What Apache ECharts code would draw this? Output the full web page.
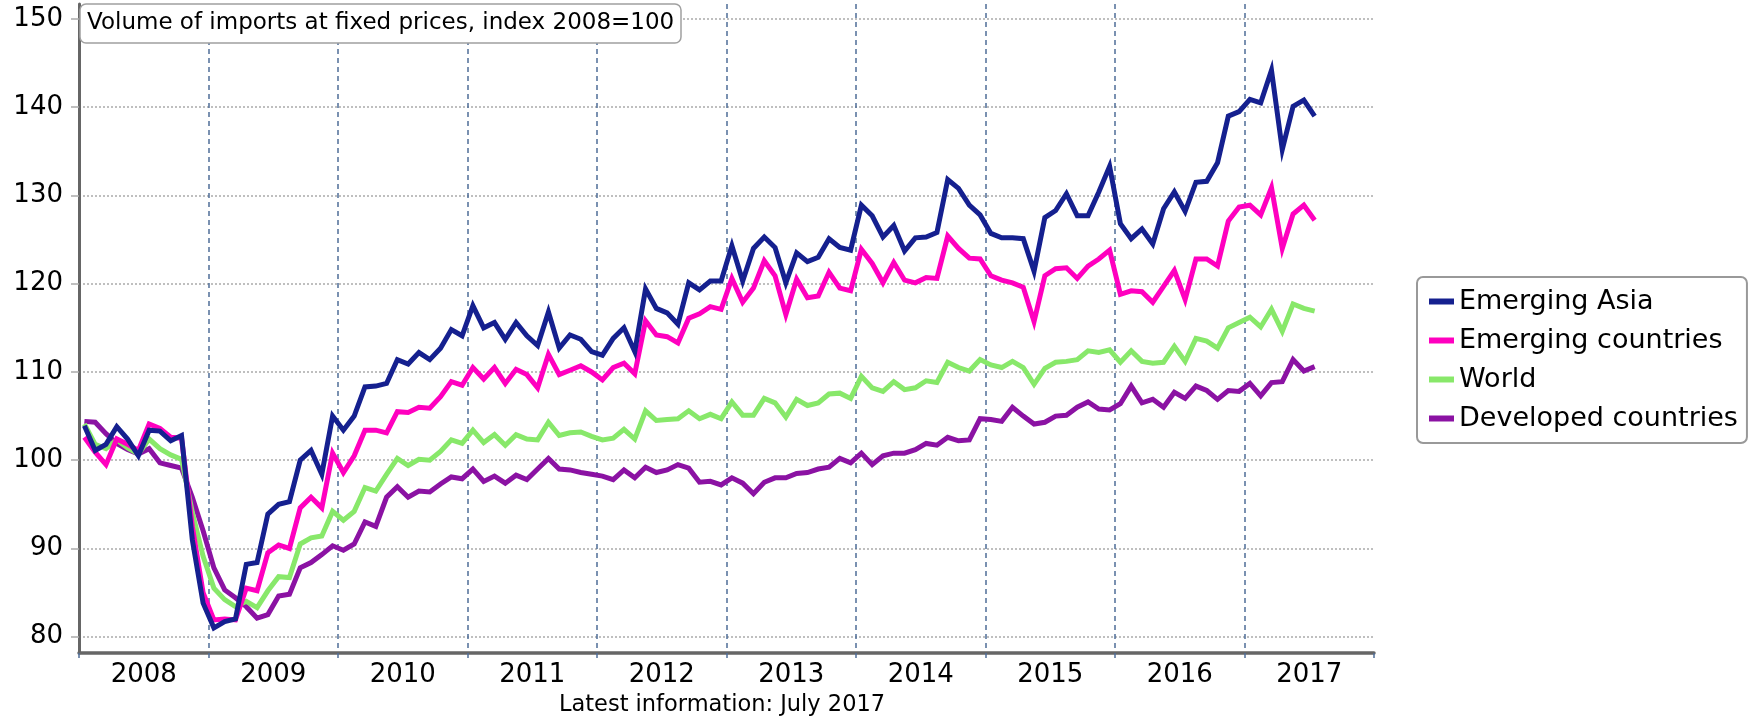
<!DOCTYPE html>
<html>
<head>
<meta charset="utf-8">
<script src="https://cdn.jsdelivr.net/npm/echarts@6/dist/echarts.min.js"></script>
<style>
html,body{margin:0;padding:0;background:#fff;}
#chart{width:1757px;height:719px;}
</style>
</head>
<body>
<div id="chart"></div>
<script>
// Monthly data, January 2008 .. July 2017
const years = ['2008','2009','2010','2011','2012','2013','2014','2015','2016','2017'];
const seriesNames = ['Emerging Asia','Emerging countries','World','Developed countries'];
const titleText = 'Volume of imports at fixed prices, index 2008=100';
const footText = 'Latest information: July 2017';
const yTicks = [80, 90, 100, 110, 120, 130, 140, 150];

const emergingAsia = [
103.9,101.1,101.8,103.8,102.4,100.5,103.4,103.3,102.2,102.8,91.0,83.8,
81.0,81.7,82.0,88.2,88.4,93.9,95.0,95.3,100.0,101.1,98.4,105.0,
103.4,105.0,108.3,108.4,108.7,111.4,110.9,112.2,111.4,112.7,114.8,114.1,
117.5,115.0,115.6,113.7,115.6,114.1,113.0,116.8,112.7,114.2,113.7,112.3,
111.9,113.8,115.0,112.3,119.4,117.2,116.7,115.4,120.1,119.3,120.3,120.3,
124.3,120.3,124.0,125.3,124.1,120.1,123.5,122.5,123.0,125.1,124.1,123.8,
128.9,127.7,125.3,126.6,123.7,125.2,125.3,125.8,131.8,130.8,128.9,127.8,
125.7,125.2,125.2,125.1,121.4,127.5,128.3,130.2,127.7,127.7,130.4,133.3,
126.8,125.1,126.2,124.5,128.5,130.4,128.2,131.5,131.6,133.7,139.0,139.5,
140.9,140.5,144.2,135.2,140.1,140.8,139.0];

const emergingCountries = [
102.6,100.9,99.5,102.4,101.8,101.1,104.1,103.6,102.6,102.5,92.5,85.0,
81.9,82.0,81.9,85.5,85.2,89.5,90.4,90.0,94.6,95.8,94.6,100.8,
98.6,100.5,103.4,103.4,103.1,105.5,105.4,106.0,105.9,107.2,108.9,108.5,
110.5,109.2,110.5,108.7,110.3,109.7,108.2,112.0,109.7,110.2,110.7,110.0,
109.1,110.5,111.0,109.8,115.8,114.2,114.0,113.3,116.1,116.6,117.4,117.1,
120.6,117.9,119.5,122.6,120.9,116.5,120.5,118.4,118.6,121.3,119.5,119.2,
123.9,122.3,120.1,122.4,120.4,120.1,120.7,120.6,125.4,124.0,122.9,122.8,
120.9,120.4,120.1,119.6,115.7,120.9,121.7,121.8,120.6,122.0,122.8,123.8,
118.8,119.2,119.1,117.9,119.7,121.5,118.2,122.8,122.8,122.0,127.1,128.7,
128.9,127.8,130.9,124.0,127.9,128.9,127.2];

const world = [
104.1,101.8,101.3,102.3,101.4,100.7,102.4,101.3,100.6,100.1,94.1,89.1,
85.5,84.2,83.4,84.0,83.3,85.2,86.8,86.7,90.5,91.2,91.4,94.2,
93.2,94.2,96.9,96.5,98.4,100.2,99.4,100.1,100.0,101.0,102.3,101.9,
103.4,102.0,102.9,101.7,102.9,102.4,102.3,104.3,102.8,103.1,103.2,102.7,
102.3,102.5,103.5,102.4,105.6,104.5,104.6,104.7,105.6,104.7,105.2,104.7,
106.6,105.1,105.1,107.0,106.5,104.9,106.9,106.2,106.5,107.5,107.6,107.0,
109.5,108.2,107.8,108.9,108.0,108.2,109.0,108.8,111.1,110.5,110.1,111.4,
110.8,110.5,111.2,110.5,108.6,110.4,111.1,111.2,111.4,112.4,112.2,112.5,
111.1,112.4,111.2,111.0,111.1,112.9,111.2,113.8,113.5,112.7,115.0,115.6,
116.2,115.1,117.1,114.6,117.7,117.2,116.9];

const developedCountries = [
104.4,104.3,103.0,101.9,101.2,100.7,101.3,99.7,99.4,99.1,95.8,92.0,
87.8,85.3,84.4,83.4,82.1,82.5,84.6,84.8,87.8,88.4,89.3,90.3,
89.8,90.5,93.0,92.5,95.8,97.0,95.8,96.5,96.4,97.3,98.1,97.9,
99.0,97.6,98.2,97.4,98.3,97.8,99.0,100.2,99.0,98.9,98.6,98.4,
98.2,97.8,98.9,98.0,99.2,98.6,98.9,99.5,99.1,97.5,97.6,97.2,
98.0,97.4,96.2,97.5,98.0,98.0,98.5,98.6,99.0,99.2,100.2,99.7,
100.8,99.5,100.5,100.8,100.8,101.2,101.9,101.7,102.6,102.2,102.3,104.7,
104.6,104.4,106.0,105.0,104.1,104.3,105.0,105.1,106.0,106.6,105.8,105.7,
106.4,108.4,106.5,106.9,106.0,107.7,107.0,108.4,107.9,106.9,107.9,107.8,
108.7,107.3,108.8,108.9,111.4,110.1,110.6];

const colors = {
  'Emerging Asia': '#15208f',
  'Emerging countries': '#ff00bf',
  'World': '#88e86a',
  'Developed countries': '#8b12a3'
};
const valuesByName = {
  'Emerging Asia': emergingAsia,
  'Emerging countries': emergingCountries,
  'World': world,
  'Developed countries': developedCountries
};

const monthsSpan = years.length * 12;
function toPoints(arr) { return arr.map((v, i) => [i + 0.5, v]); }

const FONT = 'DejaVu Sans';
const chart = echarts.init(document.getElementById('chart'), null, {renderer: 'canvas'});

const drawOrder = ['Developed countries', 'World', 'Emerging countries', 'Emerging Asia'];

chart.setOption({
  animation: false,
  backgroundColor: '#ffffff',
  title: {
    text: titleText,
    left: 80, top: 4,
    padding: [8, 7, 8, 7],
    borderColor: '#a0a0a0', borderWidth: 1.5, borderRadius: 6,
    backgroundColor: '#ffffff',
    textStyle: {fontFamily: FONT, fontSize: 23, fontWeight: 'normal', color: '#000', lineHeight: 23}
  },
  legend: {
    data: seriesNames,
    orient: 'vertical',
    left: 1417, top: 277,
    padding: [11, 9, 11, 12],
    itemWidth: 25, itemHeight: 6, itemGap: 12,
    icon: 'rect',
    borderColor: '#999', borderWidth: 2, borderRadius: 6,
    backgroundColor: '#fff',
    textStyle: {fontFamily: FONT, fontSize: 27, color: '#000'}
  },
  graphic: [{
    type: 'text', x: 722, y: 705,
    style: {text: footText, font: '22.5px "DejaVu Sans"', fill: '#000', textAlign: 'center', textVerticalAlign: 'middle'}
  }],
  grid: {left: 79, right: 383, top: 4, bottom: 66, containLabel: false},
  xAxis: [{
    type: 'value', min: 0, max: monthsSpan, interval: 12,
    axisLine: {show: true, onZero: false, lineStyle: {color: '#666', width: 3.5}},
    axisTick: {show: true, length: 5, lineStyle: {color: '#4f6d98', width: 1.5}},
    axisLabel: {show: false},
    splitLine: {show: true, showMinLine: false, showMaxLine: false,
      lineStyle: {color: '#4f6d98', width: 1.5, type: [5, 4]}}
  }, {
    type: 'value', min: 0, max: monthsSpan, interval: 6, position: 'bottom',
    axisLine: {show: false}, axisTick: {show: false}, splitLine: {show: false},
    axisLabel: {
      show: true, margin: 9, fontFamily: FONT, fontSize: 26, color: '#000',
      formatter: function (v) { return (v % 12 === 6) ? years[(v - 6) / 12] : ''; }
    }
  }],
  yAxis: {
    type: 'value', min: 78.15, max: 151.7, minInterval: 10, maxInterval: 10, splitNumber: 7,
    axisLine: {show: true, lineStyle: {color: '#666', width: 3}},
    axisTick: {show: true, length: 8, customValues: yTicks, lineStyle: {color: '#aaa', width: 1.5}},
    axisLabel: {show: true, margin: 16, fontFamily: FONT, fontSize: 26, color: '#000',
      customValues: yTicks},
    splitLine: {show: true,
      lineStyle: {color: '#aaa', width: 1.5, type: [2, 2]}}
  },
  series: drawOrder.map(name => ({
    name: name,
    type: 'line',
    xAxisIndex: 0,
    data: toPoints(valuesByName[name]),
    showSymbol: false,
    symbol: 'none',
    color: colors[name],
    lineStyle: {color: colors[name], width: 5, join: 'miter'},
    emphasis: {disabled: true}
  }))
});
</script>
</body>
</html>
